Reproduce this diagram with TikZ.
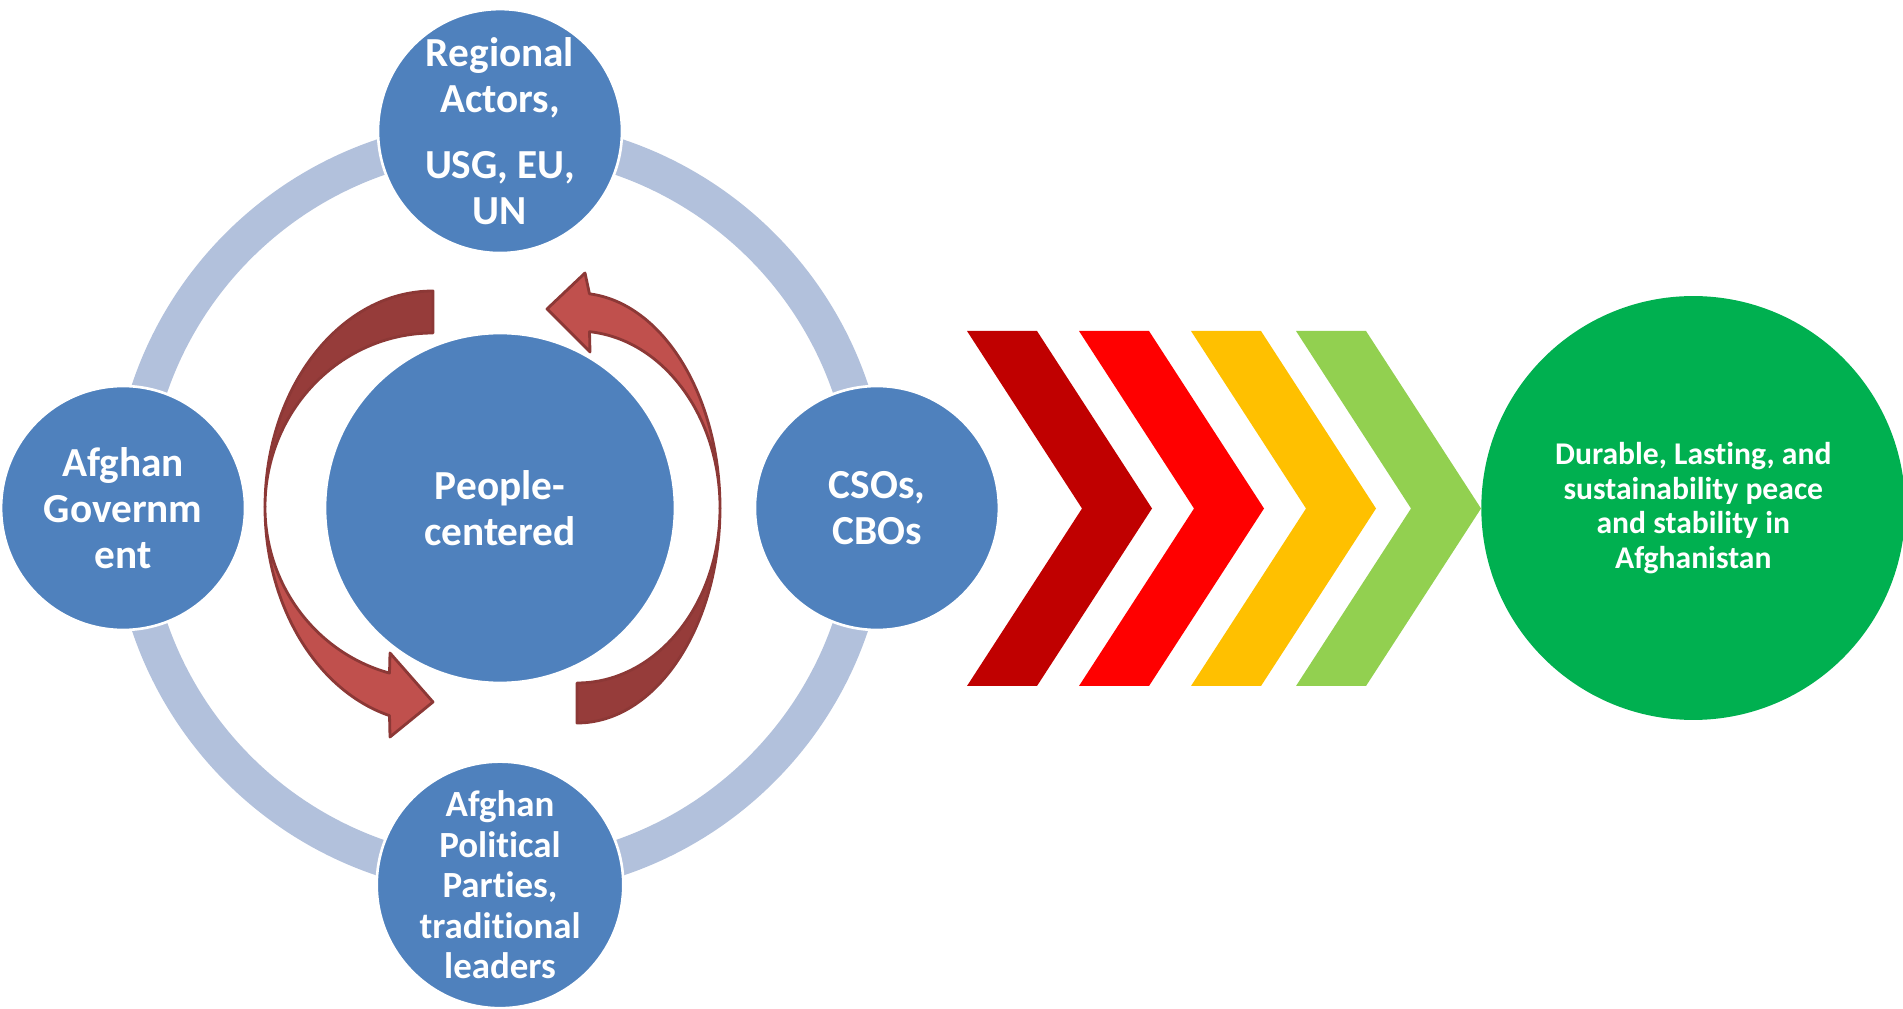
\documentclass[tikz,border=0pt]{standalone}
\usepackage{fontspec}
\setmainfont{Carlito}[Ligatures=NoCommon]
\usetikzlibrary{positioning}

\definecolor{actorblue}{RGB}{79,129,189}
\definecolor{ringblue}{RGB}{178,193,220}
\definecolor{arrowdark}{RGB}{150,60,58}
\definecolor{arrowlight}{RGB}{192,80,77}
\definecolor{arrowline}{RGB}{140,56,54}
\definecolor{chevA}{RGB}{192,0,0}
\definecolor{chevB}{RGB}{255,0,0}
\definecolor{chevC}{RGB}{255,192,0}
\definecolor{chevD}{RGB}{146,208,80}
\definecolor{goalgreen}{RGB}{0,176,80}

\begin{document}
\begin{tikzpicture}[x=0.02cm, y=0.02cm, node distance=7.54cm]
	\tikzstyle{actor}=[circle, fill=actorblue, draw=white, line width=1.5pt, minimum size=4.88cm, inner sep=0pt, align=center, text=white, font=\bfseries\fontsize{23.5}{26}\selectfont]
	\tikzstyle{goal}=[circle, fill=goalgreen, minimum size=8.48cm, inner sep=0pt, align=center, text=white, font=\bfseries\fontsize{18}{19.8}\selectfont]
	\tikzstyle{backpart}=[fill=arrowdark, draw=arrowline, line width=1.6pt, line join=round]
	\tikzstyle{frontpart}=[fill=arrowlight, draw=arrowline, line width=1.6pt, line join=round]

	\useasboundingbox (0,0) rectangle (1903,1008);
	\draw[ringblue, line width=0.72cm] (500,500.5) circle[radius=370];

	\node[actor, minimum size=7cm] (people) at (500,500) {People-\\centered};
	\node[actor, above of=people] (regional) {Regional\\Actors,\\[12pt]USG, EU,\\UN};
	\node[actor, left of=people] (government) {Afghan\\Governm\\ent};
	\node[actor, right of=people] (cso) {CSOs,\\CBOs};
	\node[actor, below of=people, font=\bfseries\fontsize{21}{23}\selectfont] (parties) {Afghan\\Political\\Parties,\\traditional\\leaders};

	% left arrow
	\draw[backpart] (433,717) arc[start angle=90, end angle=180, x radius=168, y radius=216]
		arc[start angle=180, end angle=90, x radius=168, y radius=174] -- cycle;
	\draw[frontpart] (265,501) arc[start angle=180, end angle=255, x radius=168, y radius=216]
		-- (390,271) -- (433,306) -- (390,355) -- (389.5,334.9)
		arc[start angle=255, end angle=180, x radius=168, y radius=172] -- cycle;
	% right arrow
	\draw[backpart] (577,285) arc[start angle=270, end angle=360, x radius=143, y radius=215]
		arc[start angle=0, end angle=-90, x radius=143, y radius=175] -- cycle;
	\draw[frontpart] (720,500) arc[start angle=0, end angle=85, x radius=143, y radius=215]
		-- (585,735) -- (547,699) -- (590,656) -- (589.5,676.3)
		arc[start angle=85, end angle=0, x radius=143, y radius=177] -- cycle;

	\node[goal, node distance=16.33cm, right of=cso] (peace) {Durable, Lasting, and\\sustainability peace\\and stability in\\Afghanistan};

	\foreach \l/\c in {967/chevA, 1079/chevB, 1191/chevC, 1296/chevD}
		\fill[\c] (\l,677) -- ++(70,0) -- ++(115,-177.5) -- ++(-115,-177.5) -- ++(-70,0) -- ++(115,177.5) -- cycle;
\end{tikzpicture}
\end{document}
